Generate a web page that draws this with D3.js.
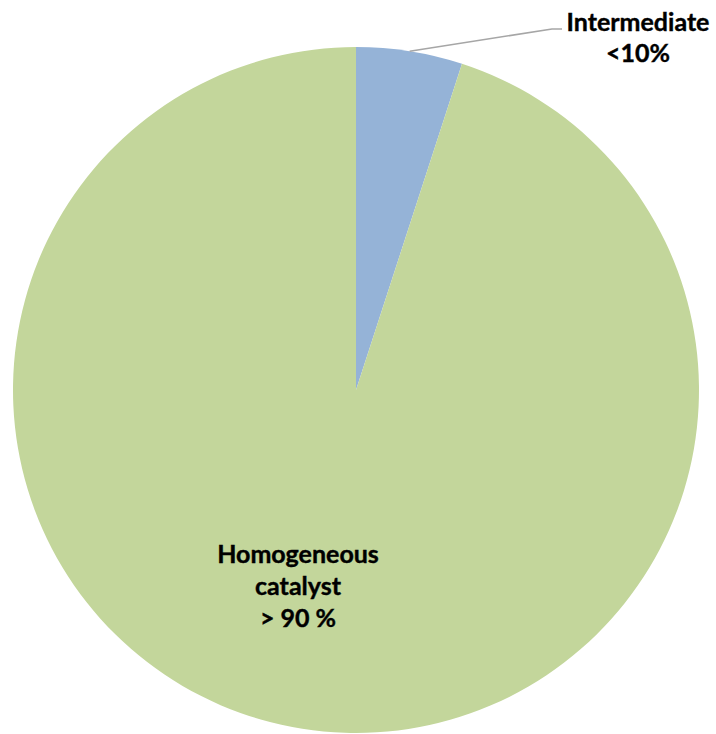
<!DOCTYPE html>
<html>
<head>
<meta charset="utf-8">
<script src="https://cdn.jsdelivr.net/npm/d3@7"></script>
<style>
  html, body { margin: 0; padding: 0; background: #fff; }
  svg text { font-family: Lato, "Open Sans", sans-serif; font-weight: bold; fill: #000; }
</style>
</head>
<body>
<div id="chart"></div>
<script>
const categories = ['Intermediate', 'Homogeneous catalyst'];
const values = [5, 95];
const labelLines = [['Intermediate', '<10%'], ['Homogeneous', 'catalyst', '> 90 %']];

const width = 716;
const height = 734;
const cx = 356, cy = 390, radius = 343;

const color = d3.scaleOrdinal()
  .domain(categories)
  .range(['#95b3d7', '#c3d69b']);

const svg = d3.select('#chart')
  .append('svg')
  .attr('width', width)
  .attr('height', height);

const g = svg.append('g')
  .attr('transform', 'translate(' + cx + ',' + cy + ')');

const pie = d3.pie().sort(null).value(d => d.value);
const arcs = pie(categories.map((c, i) => ({name: c, value: values[i]})));

const arc = d3.arc().innerRadius(0).outerRadius(radius);

g.selectAll('path')
  .data(arcs)
  .enter().append('path')
  .attr('d', arc)
  .attr('fill', d => color(d.data.name));

// leader line for the small slice
const small = arcs[0];
const mid = (small.startAngle + small.endAngle) / 2;
const p0 = [Math.sin(mid) * radius, -Math.cos(mid) * radius];
const elbow = [196, -361];
const end = [206, -361];
g.append('polyline')
  .attr('points', [p0, elbow, end].map(p => p.join(',')).join(' '))
  .attr('fill', 'none')
  .attr('stroke', '#a6a6a6')
  .attr('stroke-width', 1.5);

const labelPos = [[282, -359], [-58, 173]];
const lineH = [31, 32];

arcs.forEach((a, i) => {
  const t = g.append('text')
    .attr('text-anchor', 'middle')
    .attr('font-size', 25)
    .attr('stroke', '#000')
    .attr('stroke-width', 0.4)
    .attr('transform', 'translate(' + labelPos[i][0] + ',' + labelPos[i][1] + ')');
  labelLines[i].forEach((s, j) => {
    t.append('tspan')
      .attr('x', 0)
      .attr('y', j * lineH[i])
      .text(s);
  });
});
</script>
</body>
</html>
